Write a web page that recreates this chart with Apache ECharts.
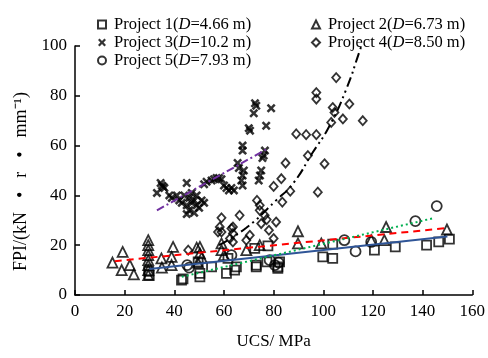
<!DOCTYPE html>
<html>
<head>
<meta charset="utf-8">
<script src="https://cdn.jsdelivr.net/npm/echarts@6/dist/echarts.min.js"></script>
<style>
  html, body { margin: 0; padding: 0; background: #fff; }
  #main { width: 488px; height: 358px; }
</style>
</head>
<body>
<div id="main"></div>
<script>
// scatter points: [UCS, FPI]
var p1Points = [[29.9,8],[29.7,9.5],[42.9,6],[43.5,6.5],[49.6,13.3],[50.3,8.7],[50.3,7.3],[55,11.3],[61,8.7],[61.6,14.7],[64.3,10],[65,11.3],
  [72.4,18.7],[73,12],[73,11.3],[77.3,13.3],[77.7,19.7],[81.7,11.3],[82.4,13.3],[81.7,10.7],[99.8,15.3],[103.8,20.4],[103.8,14.7],
  [120.6,18],[129,19.3],[141.6,20],[146.5,21.3],[150.8,22.4]];
var p2Points = [[15.1,13],[19.2,17.3],[18.8,10],[22.1,12],[23.7,8.3],[29.5,22],[29.5,20],[29.5,18],[29.5,16],[29.5,14],[29.5,12],[29.5,10],[29.5,8],
  [34.8,14.7],[35,11],[39.5,19.3],[38.9,15.3],[38.9,12],[49,19],[50.3,19.3],[50.3,16.7],[51,15],[49.5,13],[59,20.7],[59,18],[60,16],
  [69,18],[74.4,20],[89.8,25.6],[89.8,20.7],[99.2,20.7],[119.3,22],[124.6,22],[125.3,27.3],[149.8,26.3]];
var p3Points = [[33,41],[34.5,45],[35.5,43.5],[35,44],[36,43],[38,40],[39,39],[41,40],[42,38],[43,37],[44,40],[45,36],[45,45],[46,34],[45,32.5],
  [46,39],[47,37],[47,41],[48,33],[48,38],[49,36],[49,40],[50,35],[51,38],[52,37],[52,44.5],[53,45.5],[55,46],[56,46.5],[57,47],[58,47],
  [59,46.5],[60,44],[61,43],[62,42],[63,43],[64,42],[65.5,53],[66,51],[67,46],[67.5,48],[67.5,44],[68,50],[67.5,58],[67.5,60],[70,67],
  [70.5,66],[72,73],[72.5,77],[73,76],[74,46],[74.5,48],[75,50],[75.5,55],[76,56],[76.5,58],[77,68],[79,75]];
var p4Points = [[45.6,18],[57.6,25.3],[58.3,27.3],[59,25.3],[59,31],[63,26.7],[63.6,24.7],[62.4,22.7],[63.6,21.3],[63.6,27.3],[66.3,32],
  [69,22],[70.4,24],[73.3,38],[74.4,36],[74.4,34],[76.4,32],[77.2,30.3],[75,28.7],[78.1,26],[81,29.3],[80,22.7],[80,43.6],[83.1,46.7],
  [83.5,37.3],[84.8,53],[86.7,41.7],[89.1,64.7],[93.1,64.4],[97.2,64.4],[93.8,56],[97.8,41.3],[100.5,52.7],[97.2,81.3],[97.2,78.7],
  [103.2,69.3],[103.8,75.3],[104.5,73.3],[105.2,87.3],[107.9,70.7],[110.5,76.7],[115.9,70]];
var p5Points = [[45.2,12],[46,11],[63,16],[78.4,14],[80.5,12],[82,13],[108.5,22],[113,17.5],[119.3,21.3],[137.1,29.7],[145.7,35.7]];

// trend lines
var p1Trend = [[30,10.4],[150,23.5]];
var p2Trend = [[16,13.6],[149,26.8]];
var p3Trend = [[33,34],[78,59]];
var p4Trend = [[58,20],[69,27],[81,38],[88,45],[95.6,57],[102,67],[109,82],[115,99],[116,102]];
var p5Trend = [[43,7.3],[145,31]];

var names = ['Project 1(D=4.66 m)', 'Project 2(D=6.73 m)', 'Project 3(D=10.2 m)', 'Project 4(D=8.50 m)', 'Project 5(D=7.93 m)'];
var xTicks = [0, 20, 40, 60, 80, 100, 120, 140, 160];

var font = '"Liberation Serif", "Times New Roman", serif';
var crossPath = 'path://M0,2L2,0L5,3L8,0L10,2L7,5L10,8L8,10L5,7L2,10L0,8L3,5Z';
var hollow = { color: 'rgba(0,0,0,0)', borderColor: '#000', borderWidth: 1.8 };

var chart = echarts.init(document.getElementById('main'));

function legendFmt(name) {
  return name.replace('(D=', '({i|D}=');
}
var legendText = {
  fontFamily: font, fontSize: 16.5, color: '#000', padding: [0, 0, 0, 3],
  rich: { i: { fontFamily: font, fontSize: 16.5, fontStyle: 'italic', color: '#000' } }
};

function scatter(name, data, symbol, size, style) {
  return { name: name, type: 'scatter', data: data, symbol: symbol, symbolSize: size, itemStyle: style, z: 3 };
}
function trend(data, color, dash, smooth) {
  return {
    type: 'line', data: data, showSymbol: false, silent: true, smooth: smooth || false, z: 4,
    lineStyle: { color: color, width: 2, type: dash }
  };
}

var option = {
  animation: false,
  grid: { left: 75, right: 15, top: 46, bottom: 63 },
  legend: [
    { data: [names[0], names[2], names[4]], orient: 'vertical', left: 92, top: 11, itemGap: 1,
      itemWidth: 8, itemHeight: 8, formatter: legendFmt, textStyle: legendText },
    { data: [names[1], names[3]], orient: 'vertical', left: 306, top: 11, itemGap: 1,
      itemWidth: 8, itemHeight: 8, formatter: legendFmt, textStyle: legendText }
  ],
  xAxis: {
    type: 'value', min: 0, max: 160, interval: 20,
    name: 'UCS/ MPa', nameLocation: 'middle', nameGap: 38,
    nameTextStyle: { fontFamily: font, fontSize: 17, color: '#000' },
    axisLine: { lineStyle: { color: '#000', width: 1.5 } },
    axisTick: { inside: true, length: 5, lineStyle: { color: '#000', width: 1.5 } },
    axisLabel: { fontFamily: font, fontSize: 17, color: '#000', margin: 8,
      formatter: function (v) { return xTicks.indexOf(v) >= 0 ? String(v) : ''; } },
    splitLine: { show: false }
  },
  yAxis: {
    type: 'value', min: 0, max: 100, interval: 20,
    name: 'FPI/(kN{b|•}r{b|•}mm⁻¹)', nameLocation: 'middle', nameGap: 45, nameRotate: 90,
    nameTextStyle: { fontFamily: font, fontSize: 18, color: '#000', padding: [0, 22, 0, 0],
      rich: { b: { fontFamily: font, fontSize: 18, color: '#000', padding: [0, 14, 0, 14] } } },
    axisLine: { show: true, lineStyle: { color: '#000', width: 1.5 } },
    axisTick: { show: true, inside: true, length: 5, lineStyle: { color: '#000', width: 1.5 } },
    axisLabel: { fontFamily: font, fontSize: 17, color: '#000', margin: 8 },
    splitLine: { show: false }
  },
  series: [
    scatter(names[0], p1Points, 'rect', 9, hollow),
    scatter(names[1], p2Points, 'triangle', 10, hollow),
    scatter(names[2], p3Points, crossPath, 9, { color: '#000' }),
    scatter(names[3], p4Points, 'diamond', [8, 9], hollow),
    scatter(names[4], p5Points, 'circle', 10, hollow),
    trend(p1Trend, '#2f5597', 'solid'),
    trend(p2Trend, '#ff0000', [7, 5]),
    trend(p3Trend, '#7030a0', [8, 3, 2, 3]),
    trend(p4Trend, '#000', [10, 4, 2, 4, 2, 4], true),
    trend(p5Trend, '#00b050', [2, 3])
  ]
};
chart.setOption(option);
</script>
</body>
</html>
